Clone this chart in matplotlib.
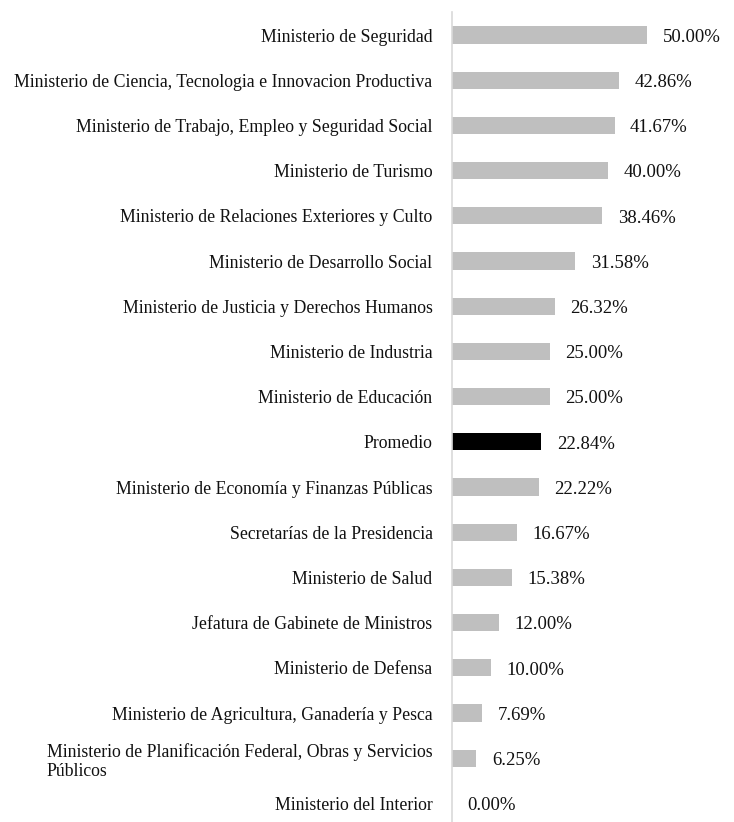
import matplotlib
matplotlib.use("Agg")
import matplotlib.pyplot as plt

categories = [
    "Ministerio de Seguridad",
    "Ministerio de Ciencia, Tecnologia e Innovacion Productiva",
    "Ministerio de Trabajo, Empleo y Seguridad Social",
    "Ministerio de Turismo",
    "Ministerio de Relaciones Exteriores y Culto",
    "Ministerio de Desarrollo Social",
    "Ministerio de Justicia y Derechos Humanos",
    "Ministerio de Industria",
    "Ministerio de Educación",
    "Promedio",
    "Ministerio de Economía y Finanzas Públicas",
    "Secretarías de la Presidencia",
    "Ministerio de Salud",
    "Jefatura de Gabinete de Ministros",
    "Ministerio de Defensa",
    "Ministerio de Agricultura, Ganadería y Pesca",
    "Ministerio de Planificación Federal, Obras y Servicios\nPúblicos",
    "Ministerio del Interior",
]
values = [50.00, 42.86, 41.67, 40.00, 38.46, 31.58, 26.32, 25.00, 25.00,
          22.84, 22.22, 16.67, 15.38, 12.00, 10.00, 7.69, 6.25, 0.00]
highlight = "Promedio"

plt.rcParams['font.family'] = ['Liberation Serif', 'DejaVu Serif']

fig = plt.figure(figsize=(7.34, 8.22), dpi=100)
ax = fig.add_axes([452/734, 0.0, 234/734, 1 - 12/822])

ypos = list(range(len(categories)))
colors = ['#000000' if c == highlight else '#BFBFBF' for c in categories]
ax.barh(ypos, values, height=0.38, color=colors)

for y, v in zip(ypos, values):
    ax.text(v + 4.0, y + 0.05, f"{v:.2f}%", va='center', ha='left', fontsize=13.5, color='#111111')

ax.set_xlim(0, 60)
ax.set_ylim(17.41, -0.51)
ax.set_yticks(ypos)
ax.set_yticklabels(categories, fontsize=12.8, color='#111111')
ax.tick_params(axis='y', length=0, pad=14)
ax.set_xticks([])
for s in ['top', 'right', 'bottom']:
    ax.spines[s].set_visible(False)
ax.spines['left'].set_color('#D9D9D9')
ax.spines['left'].set_linewidth(1.2)
for lbl in ax.get_yticklabels():
    lbl.set_multialignment('left')

fig.savefig("out.png", dpi=100, facecolor='white')
